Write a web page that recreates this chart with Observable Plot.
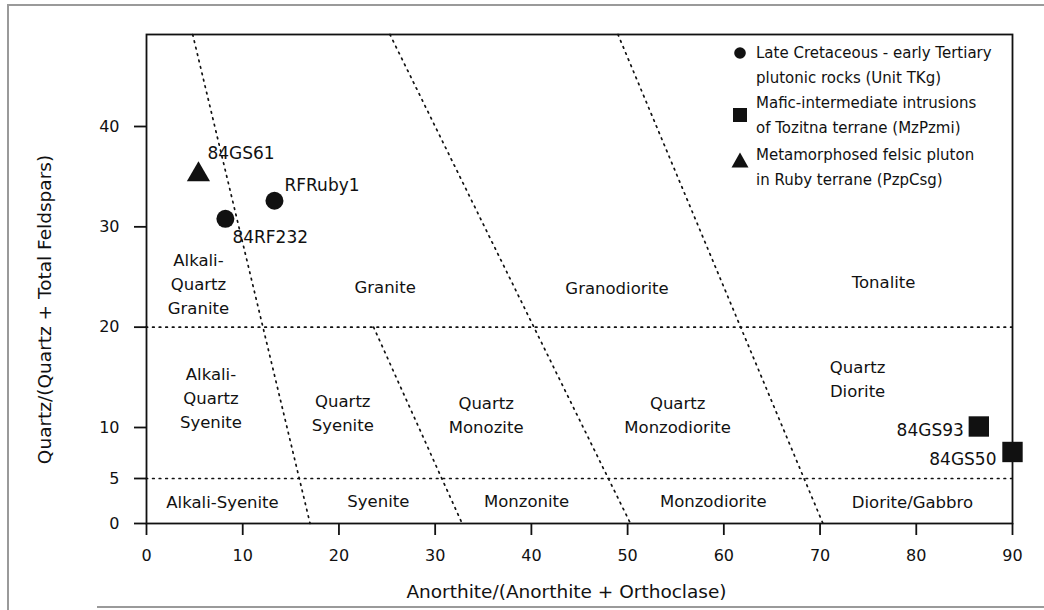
<!DOCTYPE html>
<html>
<head>
<meta charset="utf-8">
<script src="https://cdn.jsdelivr.net/npm/d3@7"></script>
<script src="https://cdn.jsdelivr.net/npm/@observablehq/plot@0.6"></script>
<style>
  html, body { margin: 0; padding: 0; background: #fff; }
  #wrap { position: relative; width: 1044px; height: 610px; overflow: hidden; background: #fff; font-family: "DejaVu Sans", sans-serif; color: #111; }
  #chart { position: absolute; left: 0; top: 0; }
  .scan { position: absolute; background: #9a9a9a; }
  .lg { position: absolute; font-size: 15px; line-height: 20px; white-space: nowrap; color: #111; }
  .lgsym { position: absolute; }
</style>
</head>
<body>
<div id="wrap">
  <div id="chart"></div>
  <div class="scan" style="left:7px; top:4px; width:2px; height:606px;"></div>
  <div class="scan" style="left:7px; top:4px; width:1037px; height:2px;"></div>
  <div class="scan" style="left:97px; top:606px; width:947px; height:2px;"></div>
  <div id="legend"></div>
</div>
<script>
// ---- data ----
const xTicks = [0, 10, 20, 30, 40, 50, 60, 70, 80, 90];
const yTicks = [0, 5, 10, 20, 30, 40];
const yBreaks = [0, 5, 10, 40, 49.2];          // the printed y-axis is slightly stretched near the bottom
const yBreakSpan = [0, 45, 96, 397, 489];      // relative length of each stretch
const horizontalBounds = [5, 20];

const boundaryX1 = [4.8, 23.6, 25.3, 49.0];
const boundaryY1 = [49.2, 20, 49.2, 49.2];
const boundaryX2 = [17.0, 32.8, 50.3, 70.3];
const boundaryY2 = [0, 0, 0, 0];

const regionNames = [
  "Alkali-\nQuartz\nGranite", "Granite", "Granodiorite", "Tonalite",
  "Alkali-\nQuartz\nSyenite", "Quartz\nSyenite", "Quartz\nMonozite", "Quartz\nMonzodiorite", "Quartz\nDiorite",
  "Alkali-Syenite", "Syenite", "Monzonite", "Monzodiorite", "Diorite/Gabbro"
];
const regionX = [5.4, 24.8, 48.9, 76.6, 6.7, 20.4, 35.3, 55.2, 73.9, 7.9, 24.1, 39.5, 58.9, 79.6];
const regionY = [24.5, 24.2, 24.1, 24.7, 13.1, 11.6, 11.45, 11.45, 15.0, 2.6, 2.7, 2.7, 2.7, 2.6];

const sampleIds = ["84GS61", "RFRuby1", "84RF232", "84GS93", "84GS50"];
const sampleGroup = ["PzpCsg", "TKg", "TKg", "MzPzmi", "MzPzmi"];
const sampleX = [5.4, 13.3, 8.2, 86.5, 90.0];
const sampleY = [35.2, 32.6, 30.8, 10.1, 7.6];

const legendGroups = ["TKg", "MzPzmi", "PzpCsg"];
const legendText = [
  ["Late Cretaceous - early Tertiary", "plutonic rocks (Unit TKg)"],
  ["Mafic-intermediate intrusions", "of Tozitna terrane (MzPzmi)"],
  ["Metamorphosed felsic pluton", "in Ruby terrane (PzpCsg)"]
];

const xLabel = "Anorthite/(Anorthite + Orthoclase)";
const yLabel = "Quartz/(Quartz + Total Feldspars)";

// ---- tables ----
const yWarp = d3.scaleLinear().domain(yBreaks).range(yBreakSpan);
const boundaries = boundaryX1.map((x1, i) => ({x1, y1: boundaryY1[i], x2: boundaryX2[i], y2: boundaryY2[i]}));
const regions = regionNames.map((label, i) => ({label, x: regionX[i], y: regionY[i]}));
const samples = sampleIds.map((id, i) => ({id, group: sampleGroup[i], x: sampleX[i], y: sampleY[i]}));
const byId = id => samples.filter(d => d.id === id);
const byGroup = g => samples.filter(d => d.group === g);

const ink = "#111";
const dotted = {stroke: ink, strokeWidth: 1.7, strokeDasharray: "1.6,5", strokeLinecap: "round"};
const lab = {x: "x", y: "y", text: "id", fontSize: 17, fill: ink};

const chart = Plot.plot({
  width: 1044,
  height: 610,
  marginLeft: 146,
  marginRight: 32,
  marginTop: 34,
  marginBottom: 87,
  style: {fontFamily: "'DejaVu Sans', sans-serif", background: "white", color: ink},
  x: {domain: [0, 90]},
  y: {type: "linear", transform: v => yWarp(v), domain: [yWarp(0), yWarp(49.2)]},
  marks: [
    Plot.ruleY(horizontalBounds, {x1: 0, x2: 90, ...dotted}),
    Plot.link(boundaries, {x1: "x1", y1: "y1", x2: "x2", y2: "y2", ...dotted}),
    Plot.frame({stroke: ink, strokeWidth: 1.8}),
    Plot.axisX(xTicks, {tickSize: 12, tickPadding: 14, fontSize: 16, strokeWidth: 1.8, label: null}),
    Plot.axisY(yTicks, {tickSize: 12, tickPadding: 15, fontSize: 16, strokeWidth: 1.8, label: null, tickFormat: d => String(d)}),
    Plot.text([xLabel], {frameAnchor: "bottom", textAnchor: "middle", lineAnchor: "middle", dx: -13, dy: 69, fontSize: 18.5, fill: ink}),
    Plot.text([yLabel], {frameAnchor: "left", textAnchor: "middle", lineAnchor: "middle", rotate: -90, dx: -101, dy: 30.5, fontSize: 18.5, fill: ink}),
    Plot.text(regions, {x: "x", y: "y", text: "label", fontSize: 16.5, lineHeight: 1.45, fill: ink}),
    Plot.dot(byGroup("TKg"), {x: "x", y: "y", symbol: "circle", r: 9, fill: ink}),
    Plot.dot(byGroup("MzPzmi"), {x: "x", y: "y", symbol: "square", r: 11.5, fill: ink}),
    Plot.dot(byGroup("PzpCsg"), {x: "x", y: "y", symbol: "triangle", r: 8.6, fill: ink}),
    Plot.text(byId("84GS61"), {...lab, textAnchor: "start", dx: 9, dy: -21}),
    Plot.text(byId("RFRuby1"), {...lab, textAnchor: "start", dx: 10, dy: -15}),
    Plot.text(byId("84RF232"), {...lab, textAnchor: "start", dx: 7, dy: 19}),
    Plot.text(byId("84GS93"), {...lab, textAnchor: "end", dx: -15, dy: 4}),
    Plot.text(byId("84GS50"), {...lab, textAnchor: "end", dx: -16, dy: 8})
  ]
});
document.getElementById("chart").appendChild(chart);

// ---- legend (inside plot, top right) ----
const legend = document.getElementById("legend");
const symbolSvg = {
  TKg: '<svg width="16" height="16"><circle cx="8" cy="8" r="5.8" fill="#111"/></svg>',
  MzPzmi: '<svg width="16" height="16"><rect x="1" y="1" width="14" height="14" fill="#111"/></svg>',
  PzpCsg: '<svg width="18" height="16"><path d="M9,0.5 L17.5,15.5 L0.5,15.5 Z" fill="#111"/></svg>'
};
const entryTop = [43, 93, 145];
const symbolTop = [45, 107, 152];
legendGroups.forEach((g, i) => {
  const s = document.createElement("div");
  s.className = "lgsym";
  s.style.left = (g === "PzpCsg" ? 731 : 732) + "px";
  s.style.top = symbolTop[i] + "px";
  s.innerHTML = symbolSvg[g];
  legend.appendChild(s);
  legendText[i].forEach((t, j) => {
    const d = document.createElement("div");
    d.className = "lg";
    d.style.left = "756px";
    d.style.top = (entryTop[i] + j * 25) + "px";
    d.textContent = t;
    legend.appendChild(d);
  });
});
</script>
</body>
</html>
